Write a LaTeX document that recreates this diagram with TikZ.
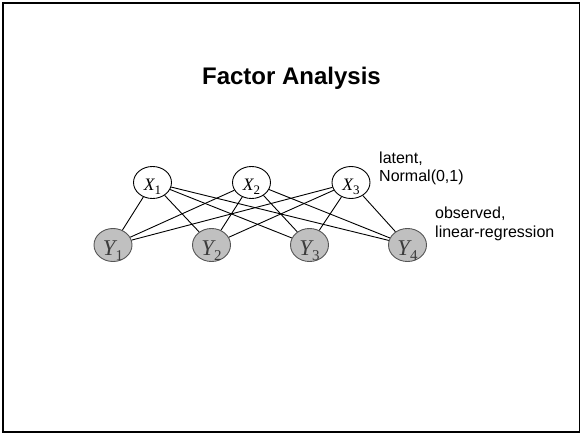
\documentclass[tikz,border=0pt]{standalone}
\usepackage{fontspec}
\setmainfont{Liberation Sans}
\newfontfamily\timesfont{Liberation Serif}
\usetikzlibrary{shapes.geometric}
\definecolor{obsfill}{RGB}{192,192,192}
\definecolor{obsdraw}{RGB}{85,85,85}
\definecolor{obstext}{RGB}{60,60,60}
\newcommand{\xvar}[1]{{\timesfont\fontsize{17.5}{20}\selectfont\itshape X}\raisebox{-4pt}{\timesfont\fontsize{13}{13}\selectfont #1}}
\newcommand{\yvar}[1]{{\timesfont\fontsize{22.5}{24}\selectfont\itshape Y}\raisebox{-5.5pt}{\timesfont\fontsize{15}{15}\selectfont #1}}
\begin{document}
\begin{tikzpicture}[x=1pt,y=-1pt,
  latentnode/.style={ellipse,draw=black,line width=0.9pt,fill=white,minimum width=38pt,minimum height=32pt,inner sep=0pt,text height=15.5pt,text depth=0pt},
  obsnode/.style={ellipse,draw=obsdraw,line width=0.9pt,fill=obsfill,text=obstext,minimum width=38pt,minimum height=33pt,inner sep=0pt,text height=20pt,text depth=0pt},
  edge/.style={draw=black,line width=0.9pt},
  labeltext/.style={anchor=base west,align=left,inner sep=0pt,font=\fontsize{16}{18.5}\selectfont}]
\useasboundingbox (0,0) rectangle (582,434);
\draw[line width=1.6pt] (3,3) rectangle (579.5,432);
\node[anchor=base,inner sep=0pt,font=\fontsize{24}{28}\selectfont\bfseries] (title) at (291.5,84) {Factor Analysis};
\node[latentnode] (x1) at (152.5,182.5) {\xvar{1}};
\node[latentnode] (x2) at (251.5,182.5) {\xvar{2}};
\node[latentnode] (x3) at (351,182.5) {\xvar{3}};
\node[obsnode] (y1) at (113,245) {\yvar{1}};
\node[obsnode] (y2) at (211.5,245) {\yvar{2}};
\node[obsnode] (y3) at (309.5,245) {\yvar{3}};
\node[obsnode] (y4) at (407.5,245) {\yvar{4}};
\foreach \i in {1,2,3}{
  \foreach \j in {1,2,3,4}{
    \path[edge] (x\i) -- (y\j);
  }
}
\node[labeltext] (latentlabel) at (379,181.5) {latent,\\Normal(0,1)};
\node[labeltext] (observedlabel) at (435,237) {observed,\\linear-regression};
\end{tikzpicture}
\end{document}
